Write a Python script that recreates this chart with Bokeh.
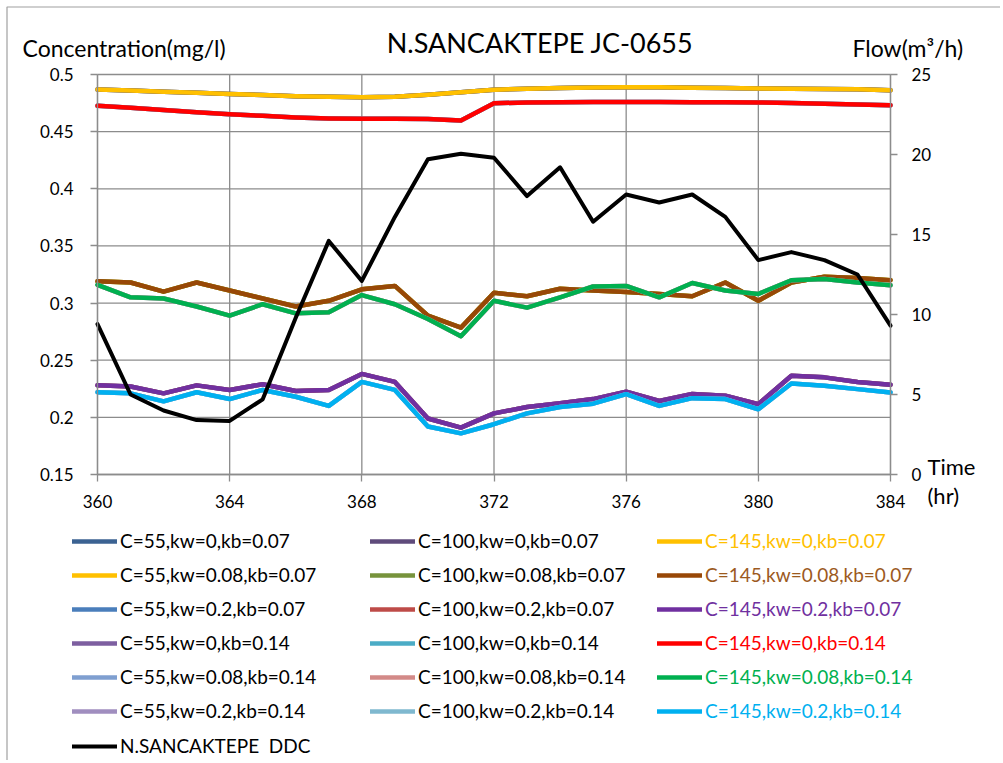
from bokeh.plotting import figure
from bokeh.models import (Range1d, LinearAxis, FixedTicker, NumeralTickFormatter,
                          Legend, LegendItem, Label, BoxAnnotation)
from bokeh.embed import file_html
from bokeh.resources import INLINE

# ---------------- data ----------------
hours = list(range(360, 385))

conc_kw0_kb007 = [0.4868, 0.486, 0.485, 0.484, 0.483, 0.482, 0.481, 0.4805, 0.480, 0.4805,
                  0.4822, 0.4844, 0.4866, 0.4876, 0.4882, 0.4887, 0.4888, 0.4888, 0.4885,
                  0.4882, 0.4878, 0.4876, 0.4874, 0.487, 0.4862]
conc_kw0_kb014 = [0.4726, 0.471, 0.469, 0.467, 0.4653, 0.4638, 0.4624, 0.4615, 0.4612, 0.4612,
                  0.461, 0.4598, 0.4748, 0.4756, 0.4758, 0.476, 0.476, 0.476, 0.4758, 0.4757,
                  0.4755, 0.475, 0.4744, 0.4738, 0.4732]
conc_kw008_kb007 = [0.319, 0.318, 0.310, 0.318, 0.311, 0.304, 0.297, 0.302, 0.312, 0.315,
                    0.289, 0.2785, 0.309, 0.306, 0.3125, 0.311, 0.3097, 0.308, 0.306, 0.318,
                    0.302, 0.318, 0.323, 0.322, 0.320]
conc_kw008_kb014 = [0.316, 0.305, 0.304, 0.297, 0.289, 0.299, 0.291, 0.292, 0.307, 0.299,
                    0.286, 0.271, 0.302, 0.296, 0.305, 0.3145, 0.315, 0.305, 0.3176, 0.311,
                    0.308, 0.320, 0.321, 0.318, 0.3155]
conc_kw02_kb007 = [0.228, 0.227, 0.221, 0.228, 0.224, 0.229, 0.223, 0.224, 0.238, 0.231,
                   0.199, 0.191, 0.2035, 0.209, 0.2124, 0.216, 0.2225, 0.2143, 0.2205, 0.219,
                   0.2115, 0.2364, 0.235, 0.231, 0.2285]
conc_kw02_kb014 = [0.222, 0.221, 0.214, 0.222, 0.216, 0.224, 0.218, 0.210, 0.231, 0.224,
                   0.192, 0.186, 0.194, 0.2035, 0.209, 0.212, 0.2203, 0.210, 0.2168, 0.216,
                   0.2071, 0.2297, 0.2277, 0.2247, 0.2218]
flow_ddc = [9.4, 5.0, 4.0, 3.4, 3.35, 4.7, 9.8, 14.6, 12.1, 16.1, 19.7, 20.05, 19.8, 17.4,
            19.2, 15.8, 17.5, 17.0, 17.5, 16.1, 13.4, 13.9, 13.4, 12.5, 9.3]

x_ticks = [360, 364, 368, 372, 376, 380, 384]
conc_ticks = [0.15, 0.2, 0.25, 0.3, 0.35, 0.4, 0.45, 0.5]
flow_ticks = [0, 5, 10, 15, 20, 25]

# legend order (row-major, 3 columns)
series = [
    ("C=55,kw=0,kb=0.07", conc_kw0_kb007, "#3B6292"),
    ("C=100,kw=0,kb=0.07", conc_kw0_kb007, "#5F4B7B"),
    ("C=145,kw=0,kb=0.07", conc_kw0_kb007, "#FFC000"),
    ("C=55,kw=0.08,kb=0.07", conc_kw008_kb007, "#FFC000"),
    ("C=100,kw=0.08,kb=0.07", conc_kw008_kb007, "#77933C"),
    ("C=145,kw=0.08,kb=0.07", conc_kw008_kb007, "#984807"),
    ("C=55,kw=0.2,kb=0.07", conc_kw02_kb007, "#4A7EBB"),
    ("C=100,kw=0.2,kb=0.07", conc_kw02_kb007, "#BE4B48"),
    ("C=145,kw=0.2,kb=0.07", conc_kw02_kb007, "#7030A0"),
    ("C=55,kw=0,kb=0.14", conc_kw0_kb014, "#7D5FA0"),
    ("C=100,kw=0,kb=0.14", conc_kw0_kb014, "#4BACC6"),
    ("C=145,kw=0,kb=0.14", conc_kw0_kb014, "#FF0000"),
    ("C=55,kw=0.08,kb=0.14", conc_kw008_kb014, "#7F9FD0"),
    ("C=100,kw=0.08,kb=0.14", conc_kw008_kb014, "#D38A88"),
    ("C=145,kw=0.08,kb=0.14", conc_kw008_kb014, "#00B050"),
    ("C=55,kw=0.2,kb=0.14", conc_kw02_kb014, "#A08EBF"),
    ("C=100,kw=0.2,kb=0.14", conc_kw02_kb014, "#7FB8CF"),
    ("C=145,kw=0.2,kb=0.14", conc_kw02_kb014, "#00B0F0"),
]

FONT = "Lato"
GRID = "#8C8C8C"

# ---------------- layout geometry (canvas pixels) ----------------
W, H = 1000, 760
FX0, FX1 = 97, 890      # plot area left/right
FY0, FY1 = 74, 474      # plot area top/bottom
X0, X1 = x_ticks[0], x_ticks[-1]
C0, C1 = conc_ticks[0], conc_ticks[-1]
F0, F1 = flow_ticks[0], flow_ticks[-1]
sx = (X1 - X0) / (FX1 - FX0)
sc = (C1 - C0) / (FY1 - FY0)
sf = (F1 - F0) / (FY1 - FY0)

p = figure(width=W, height=H, output_backend="svg", toolbar_location=None,
           x_range=Range1d(X0 - FX0 * sx, X1 + (W - FX1) * sx),
           y_range=Range1d(C0 - (H - FY1) * sc, C1 + FY0 * sc),
           min_border=0, min_border_left=0, min_border_right=0,
           min_border_top=0, min_border_bottom=0)
p.extra_y_ranges = {"flow": Range1d(F0 - (H - FY1) * sf, F1 + FY0 * sf)}
p.outline_line_color = None
p.background_fill_color = "white"
p.border_fill_color = "white"
p.xgrid.visible = False
p.ygrid.visible = False


def cx(px):
    return X0 + (px - FX0) * sx


def cy(py):
    return C1 - (py - FY0) * sc


# outer chart border
p.add_layout(BoxAnnotation(left=cx(6.5), right=cx(1020), top=cy(6.5), bottom=cy(800),
                           fill_alpha=0, line_color="#A0A0A0", line_alpha=1.0,
                           line_width=1.2))

# grid lines of the plot area
p.segment(x0=x_ticks, x1=x_ticks, y0=[C0] * len(x_ticks), y1=[C1] * len(x_ticks),
          line_color=GRID, line_width=1.3)
p.segment(x0=[X0] * len(conc_ticks), x1=[X1] * len(conc_ticks), y0=conc_ticks,
          y1=conc_ticks, line_color=GRID, line_width=1.3)


def style_axis(ax, standoff):
    ax.axis_line_color = GRID
    ax.axis_line_width = 1.3
    ax.major_tick_line_color = GRID
    ax.major_tick_line_width = 1.3
    ax.minor_tick_line_color = None
    ax.major_tick_in = 0
    ax.major_tick_out = 7
    ax.major_label_text_font = FONT
    ax.major_label_text_font_size = "17px"
    ax.major_label_text_color = "black"
    ax.major_label_standoff = standoff


xa = p.xaxis[0]
xa.ticker = FixedTicker(ticks=x_ticks)
xa.fixed_location = C0
xa.bounds = (X0, X1)
style_axis(xa, 13)

ya = p.yaxis[0]
ya.ticker = FixedTicker(ticks=conc_ticks)
ya.formatter = NumeralTickFormatter(format="0.[00]")
ya.fixed_location = X0
ya.bounds = (C0, C1)
style_axis(ya, 17)

ry = LinearAxis(y_range_name="flow", ticker=FixedTicker(ticks=flow_ticks))
ry.fixed_location = X1
ry.bounds = (F0, F1)
style_axis(ry, 14)
p.add_layout(ry, "right")

renderers = []
for name, vals, color in series:
    r = p.line(hours, vals, line_color=color, line_width=4.5, line_join="round",
               line_cap="round")
    renderers.append((name, r, color))

r_ddc = p.line(hours, flow_ddc, y_range_name="flow", line_color="black", line_width=4,
               line_join="round", line_cap="round")


def make_legend(item, vx, row, text_color="black"):
    center = 541 + 34.2 * row
    lg = Legend(items=[item], location=(vx, round(H - center - 10.5)),
                orientation="vertical",
                label_text_font=FONT, label_text_font_size="19px",
                label_text_color=text_color,
                glyph_width=45, glyph_height=20, label_height=20, spacing=0,
                padding=0, margin=0, label_standoff=3,
                border_line_alpha=0, background_fill_alpha=0)
    p.add_layout(lg, "center")
    return lg


COLX = [72, 370, 657]
for i, (name, r, color) in enumerate(renderers):
    row, col = divmod(i, 3)
    if col == 2:
        txt = "#9C5A1E" if color == "#984807" else color
    else:
        txt = "black"
    make_legend(LegendItem(label=name, renderers=[r]), COLX[col], row, txt)
make_legend(LegendItem(label="N.SANCAKTEPE  DDC", renderers=[r_ddc]), COLX[0], 6)

# texts
p.add_layout(Label(x=cx(543), y=cy(42), text="N.SANCAKTEPE  JC-0655", text_align="center",
                   text_baseline="middle", text_font=FONT, text_font_size="27px",
                   text_color="black"))
p.add_layout(Label(x=cx(22), y=cy(47), text="Concentration(mg/l)", text_align="left",
                   text_baseline="middle", text_font=FONT, text_font_size="23px",
                   text_color="black"))
p.add_layout(Label(x=cx(852), y=cy(47), text="Flow(m\u00b3/h)", text_align="left",
                   text_baseline="middle", text_font=FONT, text_font_size="23px",
                   text_color="black"))
p.add_layout(Label(x=cx(927), y=cy(466), text="Time", text_align="left",
                   text_baseline="middle", text_font=FONT, text_font_size="22px",
                   text_color="black"))
p.add_layout(Label(x=cx(927), y=cy(495), text="(hr)", text_align="left",
                   text_baseline="middle", text_font=FONT, text_font_size="22px",
                   text_color="black"))

open("out.html", "w").write(file_html(p, INLINE))
